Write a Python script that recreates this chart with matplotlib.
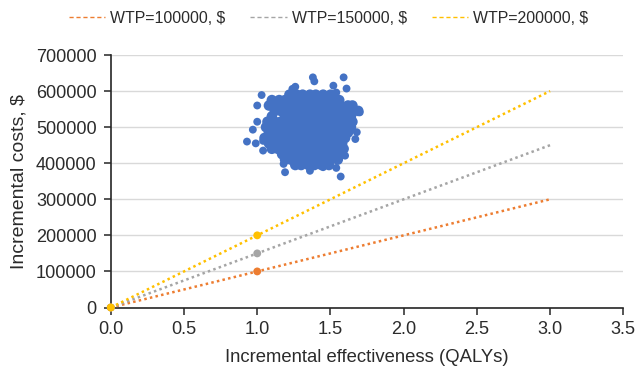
import numpy as np
import matplotlib.pyplot as plt
from matplotlib.lines import Line2D

plt.rcParams['font.family'] = ['Liberation Sans', 'DejaVu Sans']

# WTP threshold lines
wtp_values = [100000, 150000, 200000]
wtp_labels = ['WTP=100000, $', 'WTP=150000, $', 'WTP=200000, $']
wtp_colors = ['#ED7D31', '#A5A5A5', '#FFC000']
line_qalys = [0, 3]
marker_qalys = [0, 1]

# PSA cloud: dense core, read row by row (cost -> list of QALYs)
cloud_rows = {
    590000: [1.22, 1.27, 1.31, 1.36, 1.40, 1.45, 1.50],
    575000: [1.10, 1.15, 1.19, 1.24, 1.29, 1.33, 1.38, 1.42, 1.47, 1.52, 1.56],
    560000: [1.08, 1.12, 1.17, 1.21, 1.26, 1.30, 1.35, 1.39, 1.44, 1.48, 1.53, 1.57, 1.62, 1.65],
    545000: [1.12, 1.16, 1.21, 1.25, 1.30, 1.34, 1.39, 1.43, 1.48, 1.52, 1.57, 1.61, 1.66, 1.69],
    530000: [1.10, 1.19, 1.23, 1.28, 1.32, 1.37, 1.41, 1.46, 1.50, 1.55, 1.59, 1.64],
    515000: [1.07, 1.12, 1.16, 1.21, 1.25, 1.30, 1.34, 1.39, 1.43, 1.48, 1.52, 1.57, 1.61, 1.65],
    500000: [1.06, 1.10, 1.14, 1.19, 1.23, 1.28, 1.32, 1.37, 1.41, 1.46, 1.50, 1.55, 1.59, 1.64],
    485000: [1.08, 1.12, 1.17, 1.21, 1.26, 1.30, 1.35, 1.39, 1.44, 1.48, 1.53, 1.57, 1.62],
    470000: [1.05, 1.10, 1.14, 1.19, 1.23, 1.28, 1.32, 1.37, 1.41, 1.46, 1.50, 1.55, 1.60],
    455000: [1.08, 1.12, 1.17, 1.21, 1.26, 1.30, 1.35, 1.39, 1.44, 1.48, 1.53, 1.58],
    440000: [1.10, 1.14, 1.19, 1.23, 1.28, 1.32, 1.37, 1.41, 1.46, 1.50, 1.55, 1.59],
    425000: [1.17, 1.21, 1.26, 1.30, 1.35, 1.39, 1.44, 1.48, 1.53, 1.57],
    410000: [1.19, 1.23, 1.28, 1.32, 1.37, 1.41, 1.46, 1.50, 1.55],
    395000: [1.26, 1.30, 1.35, 1.39, 1.44, 1.49],
}
core_qalys = [q for c, qs in cloud_rows.items() for q in qs]
core_costs = [c for c, qs in cloud_rows.items() for q in qs]

# scattered points around the core (QALYs, cost)
outlier_qalys = [0.93, 0.99, 1.04, 0.97, 1.00, 1.00, 1.03, 1.38, 1.39, 1.59, 1.61,
                 1.52, 1.24, 1.26, 1.54, 1.70, 1.68, 1.67, 1.60, 1.57, 1.54, 1.19,
                 1.18, 1.29, 1.36, 1.45, 1.04, 1.09, 1.16, 1.11]
outlier_costs = [460000, 455000, 462000, 493000, 515000, 560000, 589000, 638000, 627000, 638000, 607000,
                 615000, 606000, 612000, 596000, 541000, 486000, 467000, 421000, 363000, 387000, 375000,
                 398000, 398000, 379000, 389000, 435000, 569000, 575000, 537000]

fig = plt.figure(figsize=(6.38, 3.68), dpi=100)
ax = fig.add_axes([110.8 / 638, 1 - 307.5 / 368, (623.3 - 110.8) / 638, (307.5 - 55) / 368])

# core drawn with slightly bigger dots so it reads as one solid blob
ax.scatter(core_qalys, core_costs, s=58, color='#4472C4', edgecolors='none', zorder=3)
ax.scatter(outlier_qalys, outlier_costs, s=32, color='#4472C4', edgecolors='none', zorder=3)

for wtp, color in zip(wtp_values, wtp_colors):
    ax.plot(line_qalys, [q * wtp for q in line_qalys], color=color,
            linestyle=(0, (1, 1.3)), lw=1.8, zorder=4)
    ax.scatter(marker_qalys, [q * wtp for q in marker_qalys], s=32, color=color,
               edgecolors='none', zorder=5, clip_on=False)

ax.set_xlim(0, 3.5)
ax.set_ylim(0, 700000)
ax.set_xticks(np.arange(0, 3.51, 0.5))
ax.set_xticklabels([f'{t:.1f}' for t in np.arange(0, 3.51, 0.5)])
ax.set_yticks(np.arange(0, 700001, 100000))
ax.set_yticklabels([f'{int(t)}' for t in np.arange(0, 700001, 100000)])
ax.grid(axis='y', color='#D9D9D9', lw=1)
ax.set_axisbelow(True)
for side in ['top', 'right']:
    ax.spines[side].set_visible(False)
for side in ['left', 'bottom']:
    ax.spines[side].set_color('#262626')
    ax.spines[side].set_linewidth(1.2)
ax.tick_params(axis='both', direction='out', length=4.8, width=1.1, color='#262626',
               labelsize=13.1, labelcolor='#2b2b2b')
ax.tick_params(axis='y', pad=5.5)
ax.tick_params(axis='x', pad=5)

ax.set_xlabel('Incremental effectiveness (QALYs)', fontsize=13.3, color='#2b2b2b', labelpad=8)
ax.set_ylabel('Incremental costs, $', fontsize=14, color='#2b2b2b', labelpad=6)

handles = [Line2D([], [], color=c, linestyle=(0, (3, 2)), lw=1) for c in wtp_colors]
fig.legend(handles, wtp_labels, loc='center', bbox_to_anchor=(328.5 / 638, 1 - 18.5 / 368),
           ncol=3, frameon=False, fontsize=11.4, handlelength=2.3, handletextpad=0.32,
           columnspacing=1.58, labelcolor='#2b2b2b')

fig.savefig('out.png', dpi=100)
